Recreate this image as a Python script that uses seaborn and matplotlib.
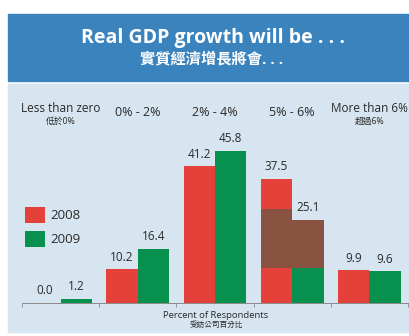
import matplotlib
matplotlib.use("Agg")
import matplotlib.pyplot as plt
from matplotlib.patches import Rectangle, Patch
import seaborn as sns
import pandas as pd

# ---- data ----
categories = ["Less than zero", "0% - 2%", "2% - 4%", "5% - 6%", "More than 6%"]
categories_zh = ["低於0%", "", "", "", "超過6%"]
years = ["2008", "2009"]
values_2008 = [0.0, 10.2, 41.2, 37.5, 9.9]
values_2009 = [1.2, 16.4, 45.8, 25.1, 9.6]
# brown overlay patch seen over the 5% - 6% bars
overlay_bottom = 10.4
overlay_top = [28.3, 25.1]
title_en = "Real GDP growth will be . . ."
title_zh = "實質經濟增長將會. . ."
xlabel_en = "Percent of Respondents"
xlabel_zh = "受訪公司百分比"

RED = "#e4413a"
GREEN = "#08904f"
BROWN = "#8a5241"
HEADER = "#3a83bd"
PANEL = "#d6e5ef"
TXT = "#2a2a2a"

sns.set_theme(style="white")
plt.rcParams["font.family"] = ["Open Sans", "Noto Sans CJK TC", "DejaVu Sans"]

W, H = 409, 336
fig = plt.figure(figsize=(W / 100, H / 100), dpi=100, facecolor="white")


def fx(px):
    return px / W


def fy(py):
    return 1 - py / H


# background panels
fig.patches.append(Rectangle((fx(8), fy(332)), fx(401), (332 - 84) / H,
                             transform=fig.transFigure, color=PANEL, zorder=-10))
fig.patches.append(Rectangle((fx(8), fy(81)), fx(401), (81 - 14) / H,
                             transform=fig.transFigure, color=HEADER, zorder=-10))

fig.text(fx(213), fy(43), title_en, color="white", fontsize=14, fontweight="bold",
         ha="center", va="baseline")
fig.text(fx(212), fy(63), title_zh, color="white", fontsize=11, fontweight="bold",
         ha="center", va="baseline")

# axes: baseline at y=303 px, x from 22 to 408 px
ax = fig.add_axes([fx(22), fy(303), fx(386), (303 - 84) / H])
ax.patch.set_alpha(0)
ax.set_zorder(5)

df = pd.DataFrame({
    "range": categories * 2,
    "year": [years[0]] * len(categories) + [years[1]] * len(categories),
    "value": values_2008 + values_2009,
})
sns.barplot(data=df, x="range", y="value", hue="year", palette=[RED, GREEN],
            saturation=1, width=0.816, linewidth=0, ax=ax, legend=False, zorder=2)

bar_containers = list(ax.containers)
for cont in bar_containers:
    ax.bar_label(cont, fmt="%.1f", padding=4, fontsize=8.5, color=TXT)

# brown overlay over the 5% - 6% pair
grp = categories.index("5% - 6%")
xs = [bar_containers[0][grp].get_x(), bar_containers[1][grp].get_x()]
ws = [bar_containers[0][grp].get_width(), bar_containers[1][grp].get_width()]
ax.bar(xs, [t - overlay_bottom for t in overlay_top], width=ws,
       bottom=overlay_bottom, align="edge", color=BROWN, linewidth=0, zorder=3)

ax.set_xlim(-0.5, len(categories) - 0.5)
ax.set_ylim(0, 66)
ax.set_xlabel("")
ax.set_ylabel("")
ax.set_yticks([])
ax.set_xticks([i - 0.5 for i in range(len(categories) + 1)])
ax.set_xticklabels([])
ax.tick_params(axis="x", direction="out", length=3, width=0.6, colors="#8a8a8a", bottom=True)
for s in ["top", "right", "left"]:
    ax.spines[s].set_visible(False)
ax.spines["bottom"].set_color("#8a8a8a")
ax.spines["bottom"].set_linewidth(0.7)

# category labels at top
for i, (en, zh) in enumerate(zip(categories, categories_zh)):
    xfig = ax.transData.transform((i, 0))[0] / fig.dpi / fig.get_figwidth()
    if zh:
        fig.text(xfig, fy(108.5), en, fontsize=8.5, color=TXT, ha="center", va="center")
        fig.text(xfig, fy(121), zh, fontsize=6.3, color=TXT, ha="center", va="center")
    else:
        fig.text(xfig, fy(113), en, fontsize=9, color=TXT, ha="center", va="center")

fig.text(fx(216), fy(315), xlabel_en, fontsize=6.8, color=TXT, ha="center", va="center")
fig.text(fx(216), fy(325.5), xlabel_zh, fontsize=5.5, color=TXT, ha="center", va="center")

handles = [Patch(facecolor=RED, edgecolor="none"), Patch(facecolor=GREEN, edgecolor="none")]
fig.legend(handles, years, loc="upper left", bbox_to_anchor=(fx(25), fy(207)),
           frameon=False, fontsize=9.5, borderpad=0, borderaxespad=0,
           handlelength=1.5, handleheight=1.5, handletextpad=0.4,
           labelspacing=0.6, labelcolor=TXT)

fig.savefig("out.png", dpi=100, facecolor="white")
